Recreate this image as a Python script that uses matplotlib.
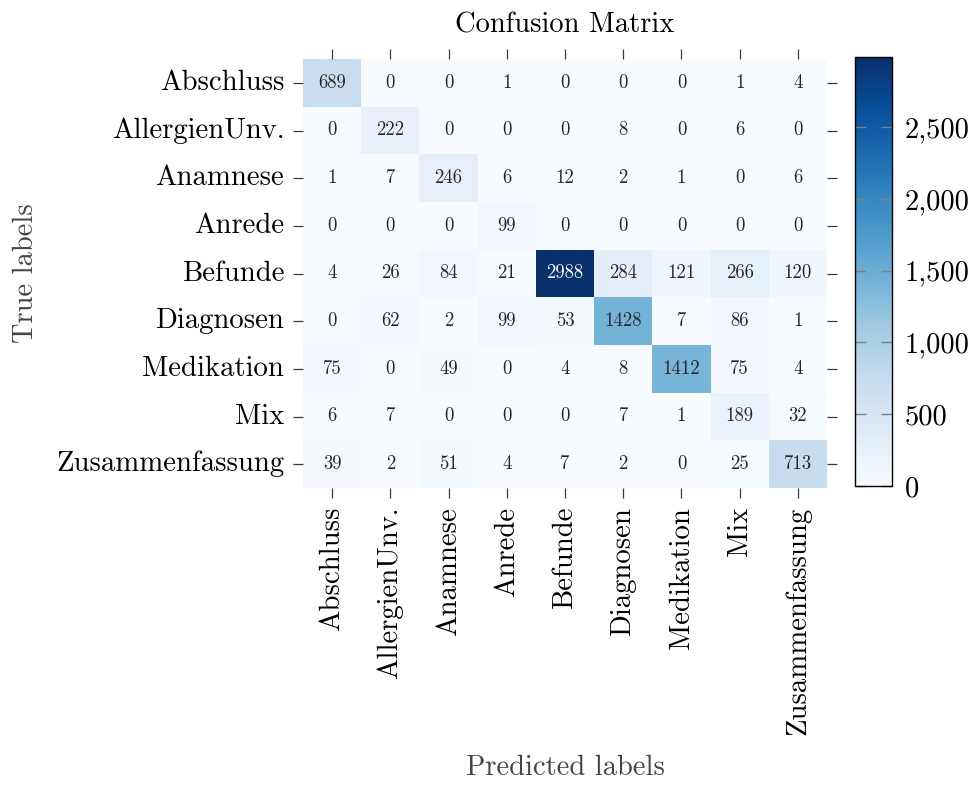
import matplotlib
matplotlib.use('Agg')
import matplotlib.pyplot as plt
import matplotlib.ticker as mticker
import numpy as np
import seaborn as sns

labels = ['Abschluss', 'AllergienUnv.', 'Anamnese', 'Anrede', 'Befunde',
          'Diagnosen', 'Medikation', 'Mix', 'Zusammenfassung']

row_abschluss = [689, 0, 0, 1, 0, 0, 0, 1, 4]
row_allergien = [0, 222, 0, 0, 0, 8, 0, 6, 0]
row_anamnese = [1, 7, 246, 6, 12, 2, 1, 0, 6]
row_anrede = [0, 0, 0, 99, 0, 0, 0, 0, 0]
row_befunde = [4, 26, 84, 21, 2988, 284, 121, 266, 120]
row_diagnosen = [0, 62, 2, 99, 53, 1428, 7, 86, 1]
row_medikation = [75, 0, 49, 0, 4, 8, 1412, 75, 4]
row_mix = [6, 7, 0, 0, 0, 7, 1, 189, 32]
row_zusammen = [39, 2, 51, 4, 7, 2, 0, 25, 713]

plt.rcParams['font.family'] = 'serif'
plt.rcParams['font.serif'] = ['cmr10', 'DejaVu Serif']
plt.rcParams['axes.formatter.use_mathtext'] = True
plt.rcParams['mathtext.fontset'] = 'cm'


def main():
	cm = np.array([row_abschluss, row_allergien, row_anamnese, row_anrede,
	               row_befunde, row_diagnosen, row_medikation, row_mix,
	               row_zusammen])

	fig = plt.figure(figsize=(9.72, 7.85), dpi=100)
	ax = fig.add_axes([303 / 972, 1 - 488 / 785, 524 / 972, 429 / 785])
	cax = fig.add_axes([855 / 972, 1 - 486 / 785, 37 / 972, 429 / 785])

	sns.heatmap(cm, annot=True, fmt='d', cmap='Blues', ax=ax, cbar_ax=cax,
	            vmin=0, vmax=cm.max(), annot_kws={'fontsize': 13.5},
	            xticklabels=labels, yticklabels=labels)

	ax.tick_params(axis='both', which='both', direction='out', length=7.5,
	               width=0.9, color='#3a3a3a', labelsize=20.7,
	               top=True, right=True, pad=6)
	ax.set_xticklabels(labels, rotation=90)
	ax.set_yticklabels(labels, rotation=0)
	for s in ax.spines.values():
		s.set_visible(False)

	ax.set_title('Confusion Matrix', fontsize=20.5, pad=19)
	ax.set_xlabel('Predicted labels', fontsize=20.5, color='#444444', labelpad=14)
	ax.set_ylabel('True labels', fontsize=20.5, color='#444444', labelpad=12)

	cbar = ax.collections[0].colorbar
	cbar.outline.set_visible(True)
	cbar.outline.set_edgecolor('black')
	cbar.outline.set_linewidth(1)
	cbar.set_ticks([0, 500, 1000, 1500, 2000, 2500])
	cbar.ax.yaxis.set_major_formatter(mticker.StrMethodFormatter('{x:,.0f}'))
	cbar.ax.tick_params(direction='in', length=8, width=1, color='gray',
	                    left=True, right=True, labelsize=20.5, pad=9)

	fig.savefig('out.png', dpi=100)


if __name__ == '__main__':
	main()
